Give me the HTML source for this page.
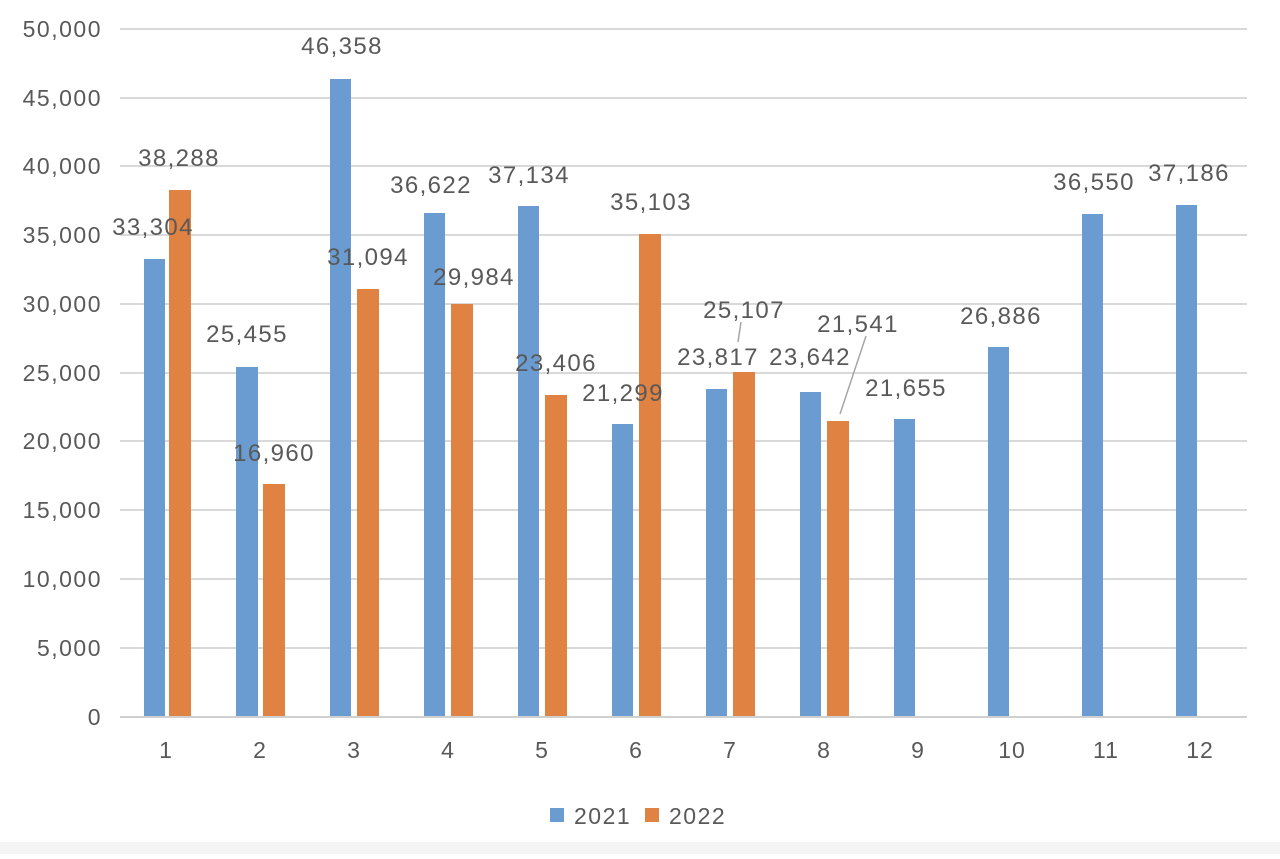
<!DOCTYPE html>
<html><head><style>body{margin:0;background:#fff}</style></head><body>
<svg width="1280" height="854" xmlns="http://www.w3.org/2000/svg" font-family="Liberation Sans, sans-serif">
<rect x="0" y="0" width="1280" height="854" fill="#fff"/>
<rect x="0" y="842" width="1280" height="12" fill="#f5f5f5"/>
<g stroke="#d9d9d9" stroke-width="2">
<line x1="120" x2="1247" y1="29" y2="29"/><line x1="120" x2="1247" y1="98" y2="98"/><line x1="120" x2="1247" y1="166" y2="166"/><line x1="120" x2="1247" y1="235" y2="235"/><line x1="120" x2="1247" y1="304" y2="304"/><line x1="120" x2="1247" y1="373" y2="373"/><line x1="120" x2="1247" y1="441" y2="441"/><line x1="120" x2="1247" y1="510" y2="510"/><line x1="120" x2="1247" y1="579" y2="579"/><line x1="120" x2="1247" y1="648" y2="648"/>
</g>
<g fill="#595959" font-size="23" letter-spacing="1.5" text-anchor="end">
<text x="102" y="37">50,000</text><text x="102" y="106">45,000</text><text x="102" y="174">40,000</text><text x="102" y="243">35,000</text><text x="102" y="312">30,000</text><text x="102" y="381">25,000</text><text x="102" y="449">20,000</text><text x="102" y="518">15,000</text><text x="102" y="587">10,000</text><text x="102" y="656">5,000</text><text x="102" y="725">0</text>
</g>
<g fill="#6a9bd1">
<rect x="144" y="259" width="21" height="458"/><rect x="236" y="367" width="22" height="350"/><rect x="330" y="79" width="21" height="638"/><rect x="424" y="213" width="21" height="504"/><rect x="518" y="206" width="21" height="511"/><rect x="612" y="424" width="21" height="293"/><rect x="706" y="389" width="21" height="328"/><rect x="800" y="392" width="21" height="325"/><rect x="894" y="419" width="21" height="298"/><rect x="988" y="347" width="21" height="370"/><rect x="1082" y="214" width="21" height="503"/><rect x="1176" y="205" width="21" height="512"/>
</g>
<g fill="#df8242">
<rect x="169" y="190" width="22" height="527"/><rect x="263" y="484" width="22" height="233"/><rect x="357" y="289" width="22" height="428"/><rect x="451" y="304" width="22" height="413"/><rect x="545" y="395" width="22" height="322"/><rect x="639" y="234" width="22" height="483"/><rect x="733" y="372" width="22" height="345"/><rect x="827" y="421" width="22" height="296"/>
</g>
<line x1="120" x2="1247" y1="717" y2="717" stroke="#d0d0d0" stroke-width="2"/>
<g stroke="#a6a6a6" stroke-width="1.5"><line x1="866" y1="336" x2="840" y2="414"/><line x1="741" y1="322" x2="738" y2="342"/></g>
<g fill="#595959" font-size="24" letter-spacing="1.4" text-anchor="middle">
<text x="179" y="166">38,288</text><text x="153" y="235">33,304</text><text x="247" y="342">25,455</text><text x="274" y="461">16,960</text><text x="342" y="54">46,358</text><text x="368" y="265">31,094</text><text x="431" y="193">36,622</text><text x="474" y="285">29,984</text><text x="529" y="183">37,134</text><text x="556" y="371">23,406</text><text x="651" y="210">35,103</text><text x="623" y="401">21,299</text><text x="718" y="365">23,817</text><text x="744" y="318">25,107</text><text x="810" y="365">23,642</text><text x="858" y="332">21,541</text><text x="906" y="396">21,655</text><text x="1001" y="324">26,886</text><text x="1094" y="190">36,550</text><text x="1189" y="181">37,186</text>
</g>
<g fill="#595959" font-size="23" letter-spacing="1" text-anchor="middle">
<text x="166" y="758">1</text><text x="260" y="758">2</text><text x="354" y="758">3</text><text x="448" y="758">4</text><text x="542" y="758">5</text><text x="636" y="758">6</text><text x="730" y="758">7</text><text x="824" y="758">8</text><text x="918" y="758">9</text><text x="1012" y="758">10</text><text x="1106" y="758">11</text><text x="1200" y="758">12</text>
</g>
<rect x="550" y="808" width="14" height="14" fill="#6a9bd1"/>
<text x="574" y="824" fill="#595959" font-size="23" letter-spacing="1.5">2021</text>
<rect x="645" y="808" width="14" height="14" fill="#df8242"/>
<text x="669" y="824" fill="#595959" font-size="23" letter-spacing="1.5">2022</text>
</svg>
</body></html>
